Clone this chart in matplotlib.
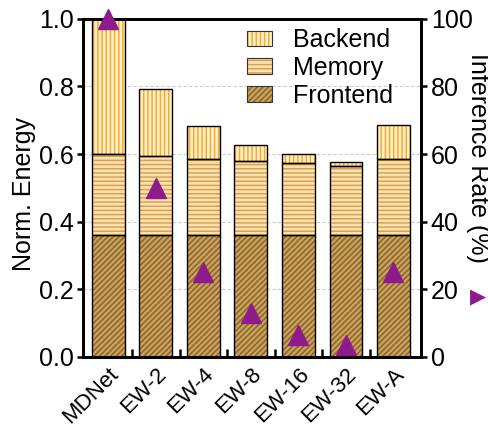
import matplotlib
matplotlib.use("Agg")
import matplotlib.pyplot as plt
from matplotlib.patches import Patch
from matplotlib.legend_handler import HandlerTuple
import numpy as np

plt.rcParams["font.family"] = ["Liberation Sans", "DejaVu Sans"]
plt.rcParams["hatch.linewidth"] = 1.1

configs = ["MDNet", "EW-2", "EW-4", "EW-8", "EW-16", "EW-32", "EW-A"]
frontend = [0.36, 0.36, 0.36, 0.36, 0.36, 0.36, 0.36]
memory = [0.24, 0.233, 0.226, 0.22, 0.213, 0.206, 0.226]
backend = [0.40, 0.199, 0.098, 0.048, 0.027, 0.012, 0.10]
inference_rate = [100, 50, 25, 13, 6.5, 3.5, 25]

# face colour, hatch colour, hatch pattern per layer
styles = {
    "Frontend": ("#c9a25e", "#8a6428", "//////"),
    "Memory": ("#fbe3b0", "#dba152", "----"),
    "Backend": ("#fff0c8", "#f6aa2e", "||||"),
}
tri_color = "#8e1b8b"

x = np.arange(len(configs))
width = 0.69

fig = plt.figure(figsize=(4.89, 4.28), dpi=100)
ax = fig.add_axes([0.170, 0.166, 0.691, 0.790])

bottom = np.zeros(len(configs))
handles = {}
for name, vals in [("Frontend", frontend), ("Memory", memory), ("Backend", backend)]:
    face, hcol, hatch = styles[name]
    # hatched fill first, then a plain black outline on top
    ax.bar(x, vals, width, bottom=bottom, color=face, edgecolor=hcol,
           hatch=hatch, linewidth=0, zorder=2)
    ax.bar(x, vals, width, bottom=bottom, fill=False, edgecolor="black",
           linewidth=1.0, zorder=3)
    bottom += np.array(vals)
    handles[name] = (Patch(facecolor=face, edgecolor=hcol, hatch=hatch, linewidth=0),
                     Patch(fill=False, edgecolor="#333333", linewidth=0.8))

ax.set_xlim(-0.53, 6.58)
ax.set_ylim(0, 1.0)
ax.set_yticks([0, 0.2, 0.4, 0.6, 0.8, 1.0])
ax.set_yticklabels(["0.0", "0.2", "0.4", "0.6", "0.8", "1.0"])
ax.set_ylabel("Norm. Energy", fontsize=18)
ax.yaxis.set_label_coords(-0.139, 0.482)
ax.yaxis.grid(True, linestyle=(0, (3, 2)), color="#cccccc", linewidth=0.8)
ax.set_axisbelow(True)

ax.set_xticks(x)
ax.set_xticklabels(configs, rotation=45, ha="right", rotation_mode="anchor", fontsize=16)
ax.set_xticks(x[:-1] + 0.5, minor=True)
ax.tick_params(axis="x", which="major", length=0, pad=5)
ax.tick_params(axis="x", which="minor", direction="in", length=6, width=1.8)
ax.tick_params(axis="y", direction="out", length=4, width=1.8, labelsize=18, pad=3)

for s in ax.spines.values():
    s.set_linewidth(2)

ax2 = ax.twinx()
ax2.plot(x, inference_rate, linestyle="none", marker="^", markersize=15,
         color=tri_color, clip_on=False, zorder=5)
ax2.set_ylim(0, 100)
ax2.set_yticks([0, 20, 40, 60, 80, 100])
ax2.tick_params(axis="y", direction="out", length=4, width=1.8, labelsize=18, pad=3)
for s in ax2.spines.values():
    s.set_linewidth(2)

fig.text(0.978, 0.631, "Inference Rate (%)", fontsize=18, rotation=270,
         ha="center", va="center")
fig.text(0.978, 0.306, "\u25b6", color=tri_color, fontsize=15,
         family="DejaVu Sans", ha="center", va="center")

names = ["Backend", "Memory", "Frontend"]
ax.legend([handles[n] for n in names], names, loc="upper left",
          handler_map={tuple: HandlerTuple(ndivide=1)},
          frameon=False, fontsize=18, handlelength=1.0, handleheight=0.6,
          labelspacing=0.15, handletextpad=0.85, borderpad=0, borderaxespad=0,
          bbox_to_anchor=(0.485, 0.972))

fig.savefig("out.png", dpi=100)
